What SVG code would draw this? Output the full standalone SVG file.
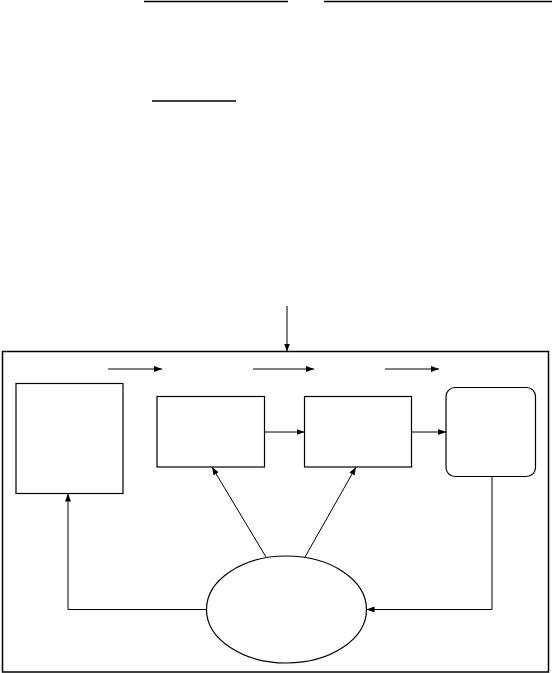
<svg xmlns="http://www.w3.org/2000/svg" width="552" height="673" viewBox="0 0 552 673">
<style>
.n{fill:none;stroke:#000;stroke-width:1.2}
.c{fill:none;stroke:#000;stroke-width:1}
.r{stroke:#000;stroke-width:1.3}
</style>
<defs>
<marker id="ah" markerWidth="9" markerHeight="7" refX="8" refY="3" orient="auto" markerUnits="userSpaceOnUse">
<path d="M0,0 L8,3 L0,6 z" fill="#000"/>
</marker>
</defs>
<g id="rules">
<line class="r" x1="144" y1="1.5" x2="288" y2="1.5"/>
<line class="r" x1="324" y1="1.5" x2="552" y2="1.5"/>
<line class="r" x1="152" y1="101" x2="236" y2="101"/>
</g>
<g id="frame"><rect class="n" x="2.5" y="351.5" width="546" height="320.5" style="stroke-width:1.5"/></g>
<g id="box1"><rect class="n" x="16" y="383.5" width="107" height="110"/></g>
<g id="box2"><rect class="n" x="157" y="396.5" width="107.5" height="70.5"/></g>
<g id="box3"><rect class="n" x="304.5" y="396.5" width="107" height="70.5"/></g>
<g id="box4"><rect class="n" x="446" y="387.5" width="89.5" height="89" rx="9" ry="9"/></g>
<g id="ellipse"><ellipse class="n" cx="286.5" cy="609.5" rx="80" ry="53.5"/></g>
<g id="connectors">
<line class="c" x1="287" y1="306" x2="287" y2="351.5" marker-end="url(#ah)"/>
<line class="c" x1="108" y1="369" x2="162" y2="369" marker-end="url(#ah)"/>
<line class="c" x1="253" y1="369" x2="314" y2="369" marker-end="url(#ah)"/>
<line class="c" x1="385" y1="369" x2="439" y2="369" marker-end="url(#ah)"/>
<line class="c" x1="264.5" y1="432" x2="304.5" y2="432" marker-end="url(#ah)"/>
<line class="c" x1="411.5" y1="432" x2="446" y2="432" marker-end="url(#ah)"/>
<line class="c" x1="266" y1="557" x2="212" y2="467" marker-end="url(#ah)"/>
<line class="c" x1="305" y1="557" x2="356" y2="467" marker-end="url(#ah)"/>
<polyline class="c" points="206.5,609.5 68,609.5 68,493.5" marker-end="url(#ah)"/>
<polyline class="c" points="492,476.5 492,609.5 366.5,609.5" marker-end="url(#ah)"/>
</g>
</svg>
